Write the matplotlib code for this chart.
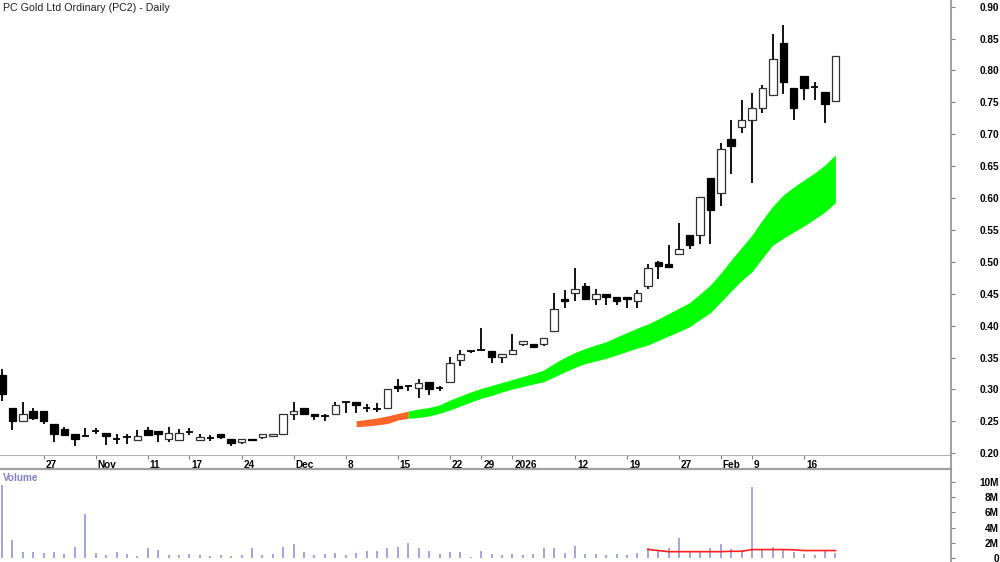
import matplotlib
matplotlib.use("Agg")
import matplotlib.pyplot as plt
import matplotlib.transforms as mtransforms
from matplotlib.patches import Rectangle
from matplotlib.lines import Line2D
import numpy as np

# ---------------- data ----------------
title = "PC Gold Ltd Ordinary (PC2) - Daily"

opens = [0.323, 0.271, 0.251, 0.267, 0.266, 0.246, 0.238, 0.231, 0.227, 0.235,
         0.232, 0.222, 0.225, 0.221, 0.237, 0.235, 0.222, 0.221, 0.234, 0.221,
         0.224, 0.231, 0.222, 0.217, 0.222, 0.226, 0.227, 0.231, 0.262, 0.271,
         0.261, 0.258, 0.262, 0.280, 0.280, 0.2715, 0.2695, 0.2705, 0.3055, 0.3055,
         0.302, 0.311, 0.302, 0.311, 0.346, 0.361, 0.362, 0.361, 0.351, 0.356,
         0.372, 0.371, 0.372, 0.391, 0.442, 0.452, 0.462, 0.442, 0.450, 0.4455,
         0.4455, 0.438, 0.462, 0.500, 0.497, 0.512, 0.542, 0.542, 0.631, 0.6075,
         0.692, 0.712, 0.722, 0.742, 0.762, 0.843, 0.772, 0.791, 0.774, 0.767,
         0.752]
highs = [0.332, 0.271, 0.281, 0.271, 0.266, 0.246, 0.242, 0.231, 0.240, 0.240,
         0.232, 0.230, 0.231, 0.237, 0.242, 0.235, 0.242, 0.238, 0.239, 0.231,
         0.229, 0.231, 0.222, 0.222, 0.222, 0.231, 0.231, 0.262, 0.281, 0.271,
         0.261, 0.261, 0.281, 0.280, 0.280, 0.277, 0.279, 0.301, 0.316, 0.3055,
         0.316, 0.311, 0.3055, 0.3505, 0.362, 0.361, 0.396, 0.361, 0.356, 0.3865,
         0.376, 0.371, 0.381, 0.452, 0.456, 0.491, 0.467, 0.457, 0.450, 0.4455,
         0.4455, 0.456, 0.497, 0.501, 0.5265, 0.561, 0.542, 0.602, 0.631, 0.687,
         0.722, 0.753, 0.764, 0.777, 0.857, 0.872, 0.772, 0.791, 0.782, 0.767,
         0.822]
lows = [0.282, 0.237, 0.251, 0.252, 0.246, 0.218, 0.229, 0.211, 0.227, 0.231,
        0.213, 0.215, 0.215, 0.221, 0.229, 0.218, 0.217, 0.221, 0.229, 0.221,
        0.219, 0.222, 0.211, 0.215, 0.219, 0.222, 0.227, 0.231, 0.252, 0.261,
        0.252, 0.251, 0.262, 0.263, 0.263, 0.264, 0.264, 0.2705, 0.2966, 0.298,
        0.286, 0.291, 0.298, 0.311, 0.337, 0.357, 0.362, 0.342, 0.342, 0.356,
        0.368, 0.367, 0.368, 0.391, 0.427, 0.438, 0.442, 0.4325, 0.4325, 0.4325,
        0.427, 0.427, 0.457, 0.473, 0.4915, 0.512, 0.520, 0.528, 0.528, 0.588,
        0.638, 0.7025, 0.623, 0.733, 0.762, 0.763, 0.722, 0.753, 0.753, 0.717,
        0.752]
closes = [0.293, 0.251, 0.261, 0.256, 0.251, 0.230, 0.229, 0.222, 0.227, 0.235,
          0.227, 0.222, 0.225, 0.227, 0.229, 0.231, 0.232, 0.232, 0.234, 0.226,
          0.224, 0.226, 0.216, 0.222, 0.221, 0.231, 0.231, 0.262, 0.267, 0.261,
          0.258, 0.258, 0.276, 0.280, 0.276, 0.2715, 0.2695, 0.301, 0.302, 0.3055,
          0.310, 0.300, 0.302, 0.341, 0.356, 0.361, 0.362, 0.3505, 0.356, 0.362,
          0.376, 0.367, 0.381, 0.426, 0.438, 0.457, 0.442, 0.450, 0.4455, 0.438,
          0.442, 0.451, 0.491, 0.494, 0.4915, 0.521, 0.5265, 0.602, 0.582, 0.677,
          0.682, 0.722, 0.742, 0.772, 0.818, 0.782, 0.742, 0.772, 0.774, 0.747,
          0.822]
volume_m = [9.6, 2.3, 0.7, 0.7, 0.65, 0.7, 0.5, 1.45, 5.8, 0.6,
            0.3, 0.7, 0.45, 0.2, 1.25, 1.05, 0.4, 0.35, 0.55, 0.4,
            0.2, 0.35, 0.2, 0.3, 1.25, 0.4, 0.5, 1.45, 1.8, 0.75,
            0.4, 0.5, 0.65, 0.35, 0.6, 0.9, 0.95, 1.3, 1.4, 2.0,
            1.25, 0.85, 0.5, 0.75, 0.75, 0.1, 0.95, 0.45, 0.4, 0.45,
            0.3, 0.45, 1.3, 1.35, 0.6, 1.55, 0.45, 0.5, 0.4, 0.45,
            0.4, 0.6, 1.3, 0.95, 1.25, 2.65, 0.7, 0.95, 1.3, 1.85,
            1.1, 1.05, 9.4, 1.1, 1.45, 1.05, 0.8, 0.5, 0.3, 0.9,
            0.6]
vol_ma_start = 62
vol_ma_m = [1.1, 0.95, 0.8, 0.8, 0.8, 0.8, 0.8, 0.8, 0.85, 0.85,
            1.08, 1.08, 1.08, 1.08, 1.05, 0.95, 0.95, 0.95, 0.95]

band_start = 34
band_orange_end = 39
band_upper = [0.2511, 0.2530, 0.2553, 0.2585, 0.2624, 0.2663, 0.2694, 0.2718, 0.2757, 0.2835,
              0.2898, 0.2961, 0.3016, 0.3063, 0.3110, 0.3157, 0.3204, 0.3251, 0.3306, 0.3408,
              0.3502, 0.3580, 0.3643, 0.3698, 0.3749, 0.3823, 0.3893, 0.3964, 0.4027, 0.4105,
              0.4191, 0.4277, 0.4361, 0.4497, 0.4638, 0.4826, 0.5030, 0.5226, 0.5422, 0.5657,
              0.5876, 0.6049, 0.6174, 0.6284, 0.6393, 0.6519, 0.6676]
band_lower = [0.2417, 0.2428, 0.2444, 0.2467, 0.2522, 0.2549, 0.2561, 0.2585, 0.2627, 0.2679,
              0.2741, 0.2804, 0.2862, 0.2906, 0.2961, 0.3008, 0.3047, 0.3086, 0.3122, 0.3196,
              0.3274, 0.3345, 0.3408, 0.3447, 0.3489, 0.3541, 0.3596, 0.3650, 0.3698, 0.3768,
              0.3839, 0.3909, 0.3984, 0.4097, 0.4204, 0.4371, 0.4544, 0.4708, 0.4846, 0.5061,
              0.5265, 0.5370, 0.5469, 0.5563, 0.5672, 0.5782, 0.5928]

date_tick_idx = [4, 9, 14, 18, 23, 28, 33, 38, 43, 46, 49, 55, 60, 65, 69, 72, 77]
date_tick_lbl = ['27', 'Nov', '11', '17', '24', 'Dec', '8', '15', '22', '29',
                 '2026', '12', '19', '27', 'Feb', '9', '16']
price_ticks = [0.20, 0.25, 0.30, 0.35, 0.40, 0.45, 0.50, 0.55, 0.60, 0.65,
               0.70, 0.75, 0.80, 0.85, 0.90]
vol_ticks_m = [0, 2, 4, 6, 8, 10]

# ---------------- figure ----------------
plt.rcParams['font.family'] = ['Liberation Sans', 'DejaVu Sans']
W, H = 1000, 562
fig = plt.figure(figsize=(W / 100, H / 100), dpi=100)
right = 951 / W
ax = fig.add_axes([0, 1 - 455 / H, right, 455 / H])
axv = fig.add_axes([0, 0, right, 1 - 469 / H])

n = len(opens)
idx = np.arange(n)
xlim = (-0.19, 91.1)
LS = 7.2
PAD = 31.5

# candles
bw = 0.72
for i in range(n):
    o, h, l, c = opens[i], highs[i], lows[i], closes[i]
    ax.vlines(i, l, h, color='black', lw=1.3, zorder=2)
    if abs(c - o) < 1e-9:
        ax.hlines(o, i - bw / 2, i + bw / 2, color='black', lw=1.3, zorder=3)
    elif c > o:
        ax.add_patch(Rectangle((i - bw / 2, o), bw, c - o, facecolor='white',
                               edgecolor='#303030', lw=0.9, zorder=3))
    else:
        ax.add_patch(Rectangle((i - bw / 2, c), bw, o - c, facecolor='black',
                               edgecolor='black', lw=0.9, zorder=3))

# band
bidx = np.arange(band_start, band_start + len(band_upper))
bu = np.array(band_upper)
bl = np.array(band_lower)
k = band_orange_end - band_start
ax.fill_between(bidx[:k + 1], bl[:k + 1], bu[:k + 1], color='#ff6428', lw=0, zorder=1)
ax.fill_between(bidx[k:], bl[k:], bu[k:], color='#00ff00', lw=0, zorder=1)

ax.set_xlim(*xlim)
ax.set_ylim(0.9105 - 455 / 638, 0.9105)
for name, s in ax.spines.items():
    s.set_visible(name == 'bottom')
ax.spines['bottom'].set_color('#b0b0b0')
ax.spines['bottom'].set_linewidth(0.8)
ax.yaxis.tick_right()
ax.set_yticks(price_ticks)
ax.set_yticklabels([f"{v:.2f}" for v in price_ticks])
ax.tick_params(axis='y', which='both', direction='out', length=3, width=0.8,
               color='#808080', pad=PAD, labelsize=LS)
for lab in ax.get_yticklabels():
    lab.set_ha('right')
    lab.set_fontweight('bold')
ax.set_xticks(date_tick_idx)
ax.set_xticklabels(date_tick_lbl)
ax.tick_params(axis='x', direction='out', length=3, width=0.8, color='#808080',
               pad=0.5, labelsize=LS)
off = mtransforms.ScaledTranslation(2 / 100, 0, fig.dpi_scale_trans)
for lab in ax.get_xticklabels():
    lab.set_ha('left')
    lab.set_fontweight('bold')
    lab.set_transform(lab.get_transform() + off)

ax.text(3 / W, 1 - 8 / 455, title, transform=ax.transAxes, fontsize=7.7,
        ha='left', va='center', color='#202020')

# volume
vol = np.array(volume_m) * 1e6
axv.vlines(idx, 0, vol, color='#8a8ad6', lw=1.1)
ma_idx = np.arange(vol_ma_start, vol_ma_start + len(vol_ma_m))
axv.plot(ma_idx, np.array(vol_ma_m) * 1e6, color='#ff2020', lw=1.2)
axv.set_xlim(*xlim)
axv.set_ylim(-0.57e6, 11.77e6)
for name, s in axv.spines.items():
    s.set_visible(name == 'top')
axv.spines['top'].set_color('#a0a0a0')
axv.spines['top'].set_linewidth(1.6)
axv.set_xticks([])
axv.yaxis.tick_right()
axv.set_yticks([v * 1e6 for v in vol_ticks_m])
axv.set_yticklabels([('0' if v == 0 else f"{v}M") for v in vol_ticks_m])
axv.tick_params(axis='y', direction='out', length=3, width=0.8, color='#808080',
                pad=PAD, labelsize=LS)
for lab in axv.get_yticklabels():
    lab.set_ha('right')
    lab.set_fontweight('bold')
axv.text(3 / W, 1 - 9 / 93, 'Volume', transform=axv.transAxes, fontsize=7.2,
         fontweight='bold', color='#8080c8', ha='left', va='center')

# right vertical axis line across panels
fig.add_artist(Line2D([right, right], [0, 1], transform=fig.transFigure,
                      color='#909090', lw=1.2))

fig.savefig('out.png', dpi=100, facecolor='white')
